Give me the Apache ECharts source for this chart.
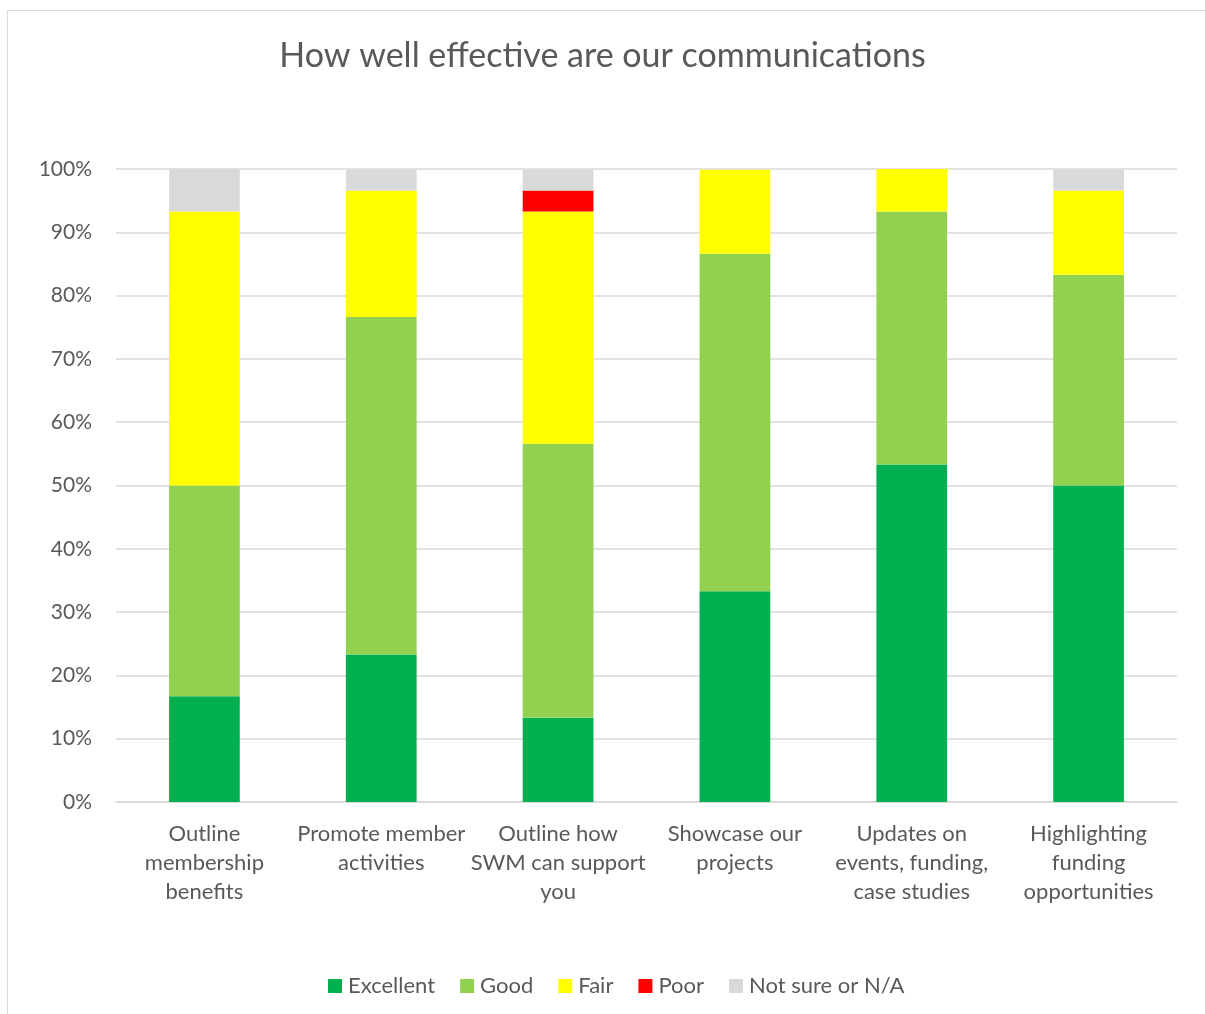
<!DOCTYPE html>
<html>
<head>
<meta charset="utf-8">
<title>How well effective are our communications</title>
<script src="https://cdn.jsdelivr.net/npm/echarts@6/dist/echarts.min.js"></script>
<style>
  html, body { margin: 0; padding: 0; background: #ffffff; }
  #chart { position: absolute; left: 0; top: 0; width: 1205px; height: 1014px; }
  #frame {
    position: absolute; left: 7px; top: 10px; width: 1220px; height: 1030px;
    border: 1.5px solid #D9D9D9; pointer-events: none; box-sizing: border-box;
  }
</style>
</head>
<body>
<div id="chart"></div>
<div id="frame"></div>
<script>
// Survey question areas (axis tick labels, wrapped as displayed)
const categories = [
  'Outline\nmembership\nbenefits',
  'Promote member\nactivities',
  'Outline how\nSWM can support\nyou',
  'Showcase our\nprojects',
  'Updates on\nevents, funding,\ncase studies',
  'Highlighting\nfunding\nopportunities'
];

// Share of responses per rating, in percent
const excellent = [16.7, 23.3, 13.3, 33.3, 53.3, 50.0];
const good      = [33.3, 53.3, 43.3, 53.3, 40.0, 33.3];
const fair      = [43.3, 20.0, 36.7, 13.3,  6.7, 13.3];
const poor      = [ 0.0,  0.0,  3.3,  0.0,  0.0,  0.0];
const notSure   = [ 6.7,  3.3,  3.3,  0.0,  0.0,  3.3];

const yTicks = [0, 10, 20, 30, 40, 50, 60, 70, 80, 90, 100];

const FONT = 'Lato';
const TEXT = '#595959';

const chart = echarts.init(document.getElementById('chart'));

function stackSeries(name, data, color) {
  return {
    name: name,
    type: 'bar',
    stack: 'total',
    barWidth: '40%',
    data: data,
    itemStyle: { color: color },
    emphasis: { disabled: true }
  };
}

chart.setOption({
  backgroundColor: '#ffffff',
  animation: false,
  textStyle: { fontFamily: FONT, color: TEXT },
  title: {
    text: 'How well effective are our communications',
    left: 'center',
    top: 34,
    textStyle: { fontFamily: FONT, fontSize: 34, fontWeight: 'normal', color: TEXT }
  },
  legend: {
    top: 970,
    left: 323,
    itemWidth: 14,
    itemHeight: 14,
    itemGap: 25,
    icon: 'rect',
    textStyle: { fontFamily: FONT, fontSize: 22, color: TEXT, padding: [0, 0, 0, 1] },
    data: ['Excellent', 'Good', 'Fair', 'Poor', 'Not sure or N/A']
  },
  grid: { left: 116, right: 28, top: 169, bottom: 212, containLabel: false },
  xAxis: {
    type: 'category',
    data: categories,
    axisLine: { lineStyle: { color: '#D9D9D9', width: 1.5 } },
    axisTick: { show: false },
    axisLabel: {
      fontFamily: FONT, fontSize: 22, color: TEXT, lineHeight: 29,
      margin: 17, interval: 0
    }
  },
  yAxis: {
    type: 'value',
    min: yTicks[0],
    max: yTicks[yTicks.length - 1],
    interval: yTicks[1] - yTicks[0],
    axisLine: { show: false },
    axisTick: { show: false },
    splitLine: { lineStyle: { color: '#D9D9D9', width: 1.5 } },
    axisLabel: {
      fontFamily: FONT, fontSize: 21, color: TEXT, margin: 24,
      formatter: '{value}%'
    }
  },
  series: [
    stackSeries('Excellent', excellent, '#00B050'),
    stackSeries('Good', good, '#92D050'),
    stackSeries('Fair', fair, '#FFFF00'),
    stackSeries('Poor', poor, '#FF0000'),
    stackSeries('Not sure or N/A', notSure, '#D9D9D9')
  ]
});
</script>
</body>
</html>
